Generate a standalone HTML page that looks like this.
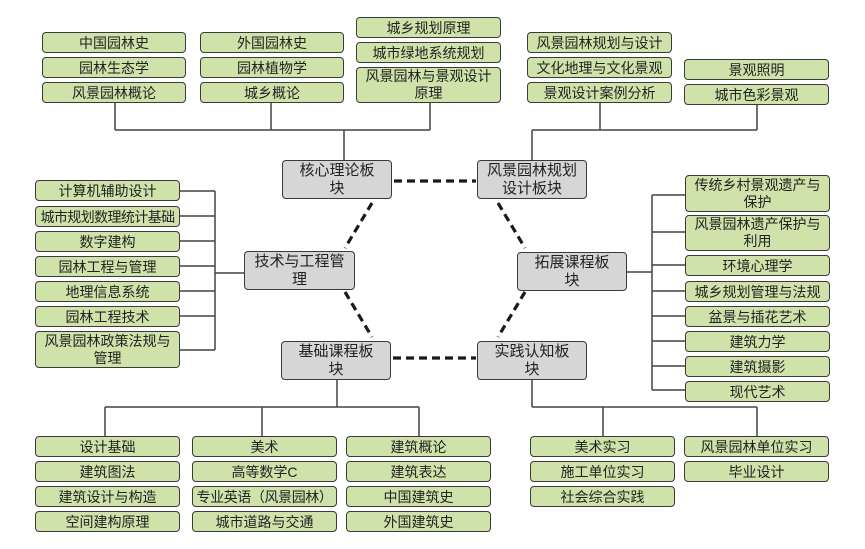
<!DOCTYPE html>
<html><head><meta charset="utf-8"><style>
html,body{margin:0;padding:0;background:#fff;}
#c{position:relative;width:865px;height:549px;overflow:hidden;font-family:"Liberation Sans","Noto Sans CJK SC",sans-serif;}
.b{position:absolute;box-sizing:border-box;background:#cfe2a9;border:1.5px solid #3a3a3a;border-radius:4px;font-size:14px;line-height:16px;color:#222;text-align:center;display:flex;align-items:center;justify-content:center;white-space:nowrap;}
.t{line-height:17px;}
.g{background:#d6d6d6;font-size:15px;line-height:18px;}
svg{position:absolute;left:0;top:0;}
</style></head><body><div id="c">
<svg width="865" height="549">
<g stroke="#444" stroke-width="1.5" fill="none">
<path d="M115 102V130M271 102V130M430 102V130M115 130H430M344 130V160"/>
<path d="M600 102V130M757 104V130M532 130H757M532 130V160"/>
<path d="M180 191H215M180 216H215M180 241H215M180 266H215M180 291H215M180 316H215M180 350H215M215 191V350M215 273H245"/>
<path d="M652 195H685M652 232H685M652 265H685M652 291H685M652 316H685M652 341H685M652 366H685M652 390H685M652 195V390M626 272H652"/>
<path d="M337 379V407M105 407H419M105 407V436M262 407V436M419 407V436"/>
<path d="M532 379V407M532 407H757M603 407V436M757 407V436"/>
</g>
<g stroke="#1a1a1a" stroke-width="3.2" stroke-dasharray="8,5" fill="none">
<path d="M394 181H476"/>
<path d="M393 358H476"/>
<path d="M372 203L345 248"/>
<path d="M345 292L372 337"/>
<path d="M498 203L525 248"/>
<path d="M525 292L498 337"/>
</g>
</svg>

<div class="b" style="left:42px;top:32px;width:144px;height:21px">中国园林史</div>
<div class="b" style="left:42px;top:57px;width:144px;height:21px">园林生态学</div>
<div class="b" style="left:42px;top:82px;width:144px;height:21px">风景园林概论</div>
<div class="b" style="left:200px;top:32px;width:144px;height:21px">外国园林史</div>
<div class="b" style="left:200px;top:57px;width:144px;height:21px">园林植物学</div>
<div class="b" style="left:200px;top:82px;width:144px;height:21px">城乡概论</div>
<div class="b" style="left:356px;top:17px;width:145px;height:21px">城乡规划原理</div>
<div class="b" style="left:356px;top:42px;width:145px;height:21px">城市绿地系统规划</div>
<div class="b t" style="left:356px;top:67px;width:145px;height:36px">风景园林与景观设计<br>原理</div>

<div class="b" style="left:527px;top:32px;width:145px;height:21px">风景园林规划与设计</div>
<div class="b" style="left:527px;top:57px;width:145px;height:21px">文化地理与文化景观</div>
<div class="b" style="left:527px;top:82px;width:145px;height:21px">景观设计案例分析</div>
<div class="b" style="left:684px;top:59px;width:145px;height:21px">景观照明</div>
<div class="b" style="left:684px;top:84px;width:145px;height:21px">城市色彩景观</div>

<div class="b g" style="left:282px;top:160px;width:110px;height:39px">核心理论板<br>块</div>
<div class="b g" style="left:477px;top:160px;width:110px;height:39px">风景园林规划<br>设计板块</div>
<div class="b g" style="left:244px;top:251px;width:111px;height:39px">技术与工程管<br>理</div>
<div class="b g" style="left:517px;top:252px;width:110px;height:39px">拓展课程板<br>块</div>
<div class="b g" style="left:281px;top:341px;width:110px;height:39px">基础课程板<br>块</div>
<div class="b g" style="left:477px;top:341px;width:110px;height:39px">实践认知板<br>块</div>

<div class="b" style="left:35px;top:180px;width:145px;height:21px">计算机辅助设计</div>
<div class="b" style="left:35px;top:206px;width:145px;height:21px;letter-spacing:-0.6px">城市规划数理统计基础</div>
<div class="b" style="left:35px;top:231px;width:145px;height:21px">数字建构</div>
<div class="b" style="left:35px;top:256px;width:145px;height:21px">园林工程与管理</div>
<div class="b" style="left:35px;top:281px;width:145px;height:21px">地理信息系统</div>
<div class="b" style="left:35px;top:306px;width:145px;height:21px">园林工程技术</div>
<div class="b t" style="left:35px;top:331px;width:145px;height:37px">风景园林政策法规与<br>管理</div>

<div class="b t" style="left:685px;top:175px;width:145px;height:37px">传统乡村景观遗产与<br>保护</div>
<div class="b t" style="left:685px;top:215px;width:145px;height:36px">风景园林遗产保护与<br>利用</div>
<div class="b" style="left:685px;top:255px;width:145px;height:21px">环境心理学</div>
<div class="b" style="left:685px;top:281px;width:145px;height:21px">城乡规划管理与法规</div>
<div class="b" style="left:685px;top:306px;width:145px;height:21px">盆景与插花艺术</div>
<div class="b" style="left:685px;top:331px;width:145px;height:21px">建筑力学</div>
<div class="b" style="left:685px;top:356px;width:145px;height:21px">建筑摄影</div>
<div class="b" style="left:685px;top:381px;width:145px;height:21px">现代艺术</div>

<div class="b" style="left:35px;top:436px;width:145px;height:21px">设计基础</div>
<div class="b" style="left:35px;top:461px;width:145px;height:21px">建筑图法</div>
<div class="b" style="left:35px;top:486px;width:145px;height:21px">建筑设计与构造</div>
<div class="b" style="left:35px;top:511px;width:145px;height:21px">空间建构原理</div>
<div class="b" style="left:192px;top:436px;width:145px;height:21px">美术</div>
<div class="b" style="left:192px;top:461px;width:145px;height:21px">高等数学C</div>
<div class="b" style="left:192px;top:486px;width:145px;height:21px;letter-spacing:-0.4px">专业英语（风景园林）</div>
<div class="b" style="left:192px;top:511px;width:145px;height:21px">城市道路与交通</div>
<div class="b" style="left:346px;top:436px;width:145px;height:21px">建筑概论</div>
<div class="b" style="left:346px;top:461px;width:145px;height:21px">建筑表达</div>
<div class="b" style="left:346px;top:486px;width:145px;height:21px">中国建筑史</div>
<div class="b" style="left:346px;top:511px;width:145px;height:21px">外国建筑史</div>

<div class="b" style="left:530px;top:436px;width:145px;height:21px">美术实习</div>
<div class="b" style="left:530px;top:461px;width:145px;height:21px">施工单位实习</div>
<div class="b" style="left:530px;top:486px;width:145px;height:21px">社会综合实践</div>
<div class="b" style="left:684px;top:436px;width:145px;height:21px">风景园林单位实习</div>
<div class="b" style="left:684px;top:461px;width:145px;height:21px">毕业设计</div>
</div></body></html>
